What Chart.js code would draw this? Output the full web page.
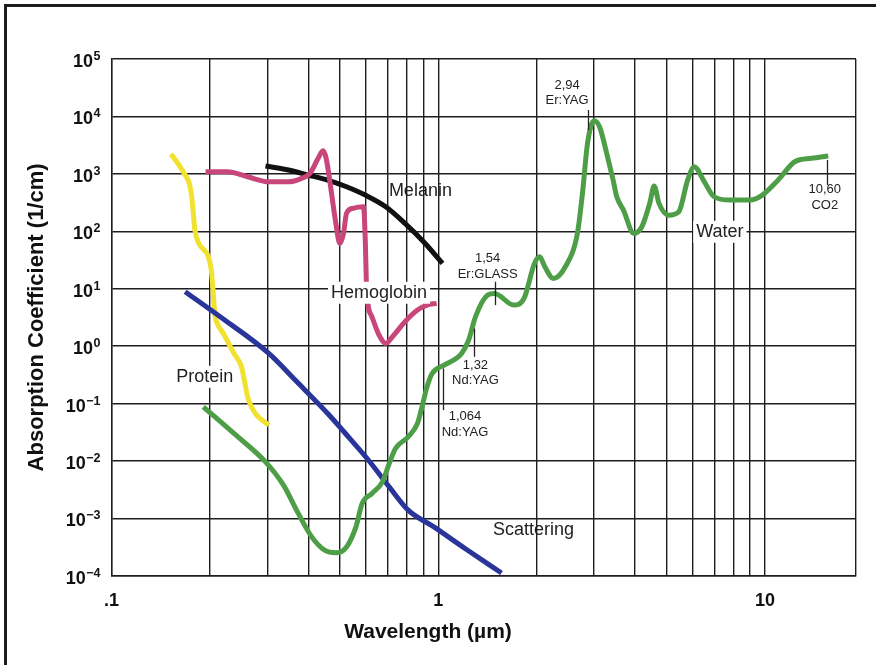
<!DOCTYPE html>
<html><head><meta charset="utf-8">
<script src="https://cdn.jsdelivr.net/npm/chart.js@4.4.1/dist/chart.umd.min.js"></script>
<style>
html,body{margin:0;padding:0;background:#fff;}
#wrap{position:relative;width:876px;height:665px;overflow:hidden;}
#frame{position:absolute;left:4px;top:4px;width:900px;height:700px;border-left:3px solid #1c1c1c;border-top:3px solid #1c1c1c;pointer-events:none;}
canvas{position:absolute;left:0;top:0;}
</style></head><body>
<div id="wrap"><canvas id="c" width="876" height="665"></canvas><div id="frame"></div></div>
<script>
// ---- Data (wavelength in µm, absorption coefficient in 1/cm) ----
const proteinWavelength = [0.152,0.161,0.168,0.173,0.176,0.178,0.180,0.185,0.192,0.197,0.202,0.2045,0.207,0.212,0.220,0.237,0.250,0.255,0.261,0.268,0.278,0.303];
const proteinAbsorption = [2213,1423,953,683,399,205,105,61.5,47,38.5,21.1,9.46,3.72,2.32,1.66,0.746,0.436,0.256,0.131,0.0877,0.0628,0.042];

const hemoglobinWavelength = [0.194,0.226,0.261,0.303,0.348,0.382,0.405,0.429,0.444,0.454,0.470,0.486,0.500,0.513,0.524,0.548,0.591,0.598,0.604,0.627,0.659,0.691,0.724,0.791,0.864,0.924,0.989];
const hemoglobinAbsorption = [1088,1088,890,728,728,835,1020,1862,2525,1862,522,137,61.5,91.9,205,251,267,70.3,9.46,3.24,1.56,1.11,1.45,2.65,4.24,5.18,5.55];

const melaninWavelength = [0.296,0.348,0.400,0.459,0.524,0.598,0.691,0.791,0.902,1.031];
const melaninAbsorption = [1368,1165,953,780,596,427,267,137,65.6,27.6];

const scatteringWavelength = [0.168,0.215,0.303,0.365,0.459,0.536,0.612,0.708,0.809,0.970,1.208,1.562];
const scatteringAbsorption = [8.83,3.24,0.746,0.256,0.0672,0.0247,0.0103,0.00354,0.00139,0.000711,0.000299,0.000112];

const waterWavelength = [0.191,0.237,0.296,0.336,0.373,0.410,0.449,0.486,0.524,0.560,0.585,0.627,0.675,0.708,0.740,0.809,0.864,0.892,0.924,0.958,1.043,1.179,1.239,1.300,1.417,1.488,1.702,1.831,1.971,2.044,2.120,2.250,2.449,2.667,2.764,2.864,3.0,3.117,3.316,3.43,3.52,3.69,3.97,4.20,4.44,4.58,4.74,5.07,5.45,5.80,6.08,6.48,6.99,7.80,9.0,9.82,10.98,12.34,13.89,15.63];
const waterAbsorption = [0.0877,0.0301,0.00964,0.00379,0.00122,0.000476,0.000279,0.000251,0.000318,0.000711,0.00182,0.00272,0.00432,0.00904,0.0165,0.0263,0.045,0.0877,0.195,0.334,0.467,0.746,1.27,3.24,7.74,8.28,5.18,6.78,27.6,36,24.1,15.1,24.1,91.9,457,3398,8414,6622,1738,780,399,234,91.9,120,306,613,306,191,219,780,1330,780,399,350,350,427,780,1625,1862,2042];

// ---- Axis ticks ----
const xGridValues = [0.1,0.2,0.3,0.4,0.5,0.6,0.7,0.8,0.9,1,2,3,4,5,6,7,8,9,10,19];
const xLabelValues = [0.1,1,10];
const xLabelTexts = ['.1','1','10'];
const yTickValues = [1e-4,1e-3,1e-2,1e-1,1e0,1e1,1e2,1e3,1e4,1e5];
const yTickBase = '10';
const yTickExponents = ['\u22124','\u22123','\u22122','\u22121','0','1','2','3','4','5'];

// ---- Text annotations (data coordinates) ----
const curveLabels = [
  {text:'Melanin', x:0.882, y:501, box:false},
  {text:'Hemoglobin', x:0.659, y:8.5, box:true},
  {text:'Protein', x:0.193, y:0.292, box:true},
  {text:'Scattering', x:1.956, y:6.2e-4, box:false},
  {text:'Water', x:7.28, y:98, box:true}
];
const laserMarks = [
  {lines:['2,94','Er:YAG'], x:2.87, yTop:12900, yBottom:5800, textX:2.48, textY:35000},
  {lines:['1,54','Er:GLASS'], x:1.488, yTop:13.2, yBottom:5.18, textX:1.417, textY:33.7},
  {lines:['1,32','Nd:YAG'], x:1.285, yTop:2.03, yBottom:0.652, textX:1.30, textY:0.467},
  {lines:['1,064','Nd:YAG'], x:1.031, yTop:0.408, yBottom:0.0767, textX:1.208, textY:0.0586},
  {lines:['10,60','CO2'], x:15.44, yTop:1738, yBottom:638, textX:15.25, textY:537}
];

const FONT = "'Liberation Sans', Arial, Helvetica, sans-serif";
const GRID = '#1e1e1e';

const series = [
  {label:'Hemoglobin', xs:hemoglobinWavelength, ys:hemoglobinAbsorption, color:'#C8467A'},
  {label:'Melanin', xs:melaninWavelength, ys:melaninAbsorption, color:'#111111'},
  {label:'Water', xs:waterWavelength, ys:waterAbsorption, color:'#4E9E48'},
  {label:'Scattering', xs:scatteringWavelength, ys:scatteringAbsorption, color:'#29359B'},
  {label:'Protein', xs:proteinWavelength, ys:proteinAbsorption, color:'#F0E22E'}
];

function pairs(xs, ys){ return xs.map((x,i)=>({x:x, y:ys[i]})); }

const annotPlugin = {
  id:'annot',
  afterDatasetsDraw(chart){
    const ctx = chart.ctx, xs = chart.scales.x, ys = chart.scales.y;
    ctx.save();
    ctx.strokeStyle = '#222'; ctx.lineWidth = 1.3;
    ctx.fillStyle = '#222';
    ctx.font = '13px ' + FONT;
    ctx.textAlign = 'center'; ctx.textBaseline = 'middle';
    laserMarks.forEach(m=>{
      const px = Math.round(xs.getPixelForValue(m.x)) + 0.5;
      ctx.beginPath();
      ctx.moveTo(px, ys.getPixelForValue(m.yTop));
      ctx.lineTo(px, ys.getPixelForValue(m.yBottom));
      ctx.stroke();
      const tx = xs.getPixelForValue(m.textX), ty = ys.getPixelForValue(m.textY);
      m.lines.forEach((t,i)=>ctx.fillText(t, tx, ty + i*15.7));
    });
    ctx.font = '18px ' + FONT;
    curveLabels.forEach(l=>{
      const px = xs.getPixelForValue(l.x), py = ys.getPixelForValue(l.y);
      if (l.box){
        const w = ctx.measureText(l.text).width + 6;
        ctx.fillStyle = '#fff';
        ctx.fillRect(px - w/2, py - 11, w, 22);
      }
      ctx.fillStyle = '#222';
      ctx.fillText(l.text, px, py);
    });
    // y tick labels with real superscripts, placed by the y scale
    const right = ys.left + ys.width - 11;
    ctx.fillStyle = '#111';
    ctx.textAlign = 'right'; ctx.textBaseline = 'alphabetic';
    yTickValues.forEach((v,i)=>{
      const py = ys.getPixelForValue(v);
      ctx.font = 'bold 12.5px ' + FONT;
      const ew = ctx.measureText(yTickExponents[i]).width;
      ctx.fillText(yTickExponents[i], right, py + 1);
      ctx.font = 'bold 18px ' + FONT;
      ctx.fillText(yTickBase, right - ew - 0.5, py + 8);
    });
    ctx.restore();
  }
};

new Chart(document.getElementById('c'), {
  type:'line',
  data:{datasets: series.map(s=>({
    label:s.label, data:pairs(s.xs, s.ys), borderColor:s.color, backgroundColor:s.color,
    borderWidth:5, pointRadius:0, fill:false, cubicInterpolationMode:'monotone',
    borderCapStyle:'butt', borderJoinStyle:'round'
  }))},
  options:{
    responsive:false, animation:false, devicePixelRatio:1,
    layout:{padding:{top:59, right:20, bottom:20, left:0}},
    plugins:{
      legend:{display:false}, tooltip:{enabled:false},
      title:{display:true, position:'bottom', text:'Wavelength (\u00B5m)', color:'#111',
        font:{family:FONT, size:21, weight:'bold'}, padding:{top:0, bottom:0}}
    },
    scales:{
      x:{
        type:'logarithmic', min:0.1, max:19,
        afterBuildTicks:s=>{ s.ticks = xGridValues.map(v=>({value:v})); },
        afterFit:s=>{ s.height = 44; },
        ticks:{autoSkip:false, maxRotation:0, minRotation:0, padding:14, color:'#111',
          font:{family:FONT, size:18, weight:'bold'},
          callback:(v)=>{ const i = xLabelValues.indexOf(v); return i >= 0 ? xLabelTexts[i] : ''; }},
        grid:{color:GRID, lineWidth:1.4, drawTicks:false},
        border:{color:GRID, width:1.4}
      },
      y:{
        type:'logarithmic', min:1e-4, max:1e5,
        afterBuildTicks:s=>{ s.ticks = yTickValues.map(v=>({value:v})); },
        afterFit:s=>{ s.width = 111.5; },
        ticks:{display:false},
        grid:{color:GRID, lineWidth:1.4, drawTicks:false},
        border:{color:GRID, width:1.4},
        title:{display:true, text:'Absorption Coefficient (1/cm)', color:'#111',
          font:{family:FONT, size:22, weight:'bold'}, padding:{top:24, bottom:0}}
      }
    }
  },
  plugins:[annotPlugin]
});
</script>
</body></html>
